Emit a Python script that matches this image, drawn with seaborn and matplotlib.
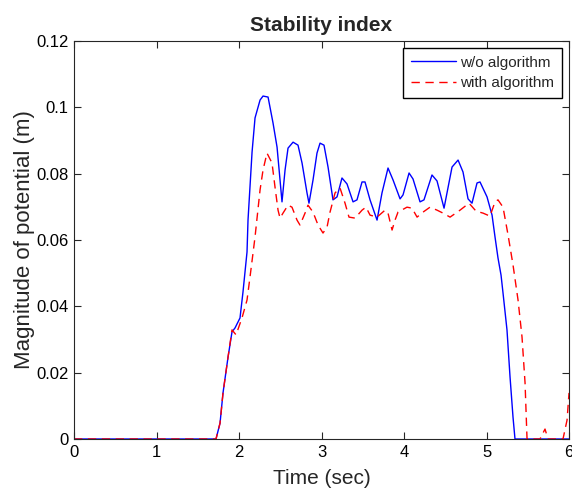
import seaborn as sns
import matplotlib.pyplot as plt
import pandas as pd

# data (time in sec, magnitude in m)
t_wo = [0.0, 1.721, 1.770, 1.806, 1.867, 1.915, 1.952, 2.012, 2.048, 2.097, 2.109, 2.158,
        2.194, 2.255, 2.291, 2.352, 2.412, 2.461, 2.497, 2.521, 2.558, 2.594, 2.655, 2.715,
        2.764, 2.824, 2.848, 2.897, 2.945, 2.982, 3.030, 3.079, 3.139, 3.188, 3.248, 3.309,
        3.382, 3.430, 3.491, 3.527, 3.588, 3.673, 3.733, 3.806, 3.867, 3.952, 3.988, 4.061,
        4.109, 4.194, 4.242, 4.339, 4.400, 4.485, 4.582, 4.655, 4.715, 4.776, 4.824, 4.885,
        4.921, 5.006, 5.067, 5.103, 5.139, 5.176, 5.200, 5.248, 5.285, 5.321, 5.345, 6.0]
y_wo = [0.0, 0.0, 0.0048, 0.0139, 0.0247, 0.0323, 0.0335, 0.0365, 0.0443, 0.0564, 0.0660, 0.0865,
        0.0968, 0.1022, 0.1034, 0.1031, 0.0953, 0.0880, 0.0781, 0.0715, 0.0811, 0.0877, 0.0895, 0.0886,
        0.0832, 0.0742, 0.0711, 0.0781, 0.0862, 0.0892, 0.0886, 0.0820, 0.0721, 0.0730, 0.0787, 0.0769,
        0.0715, 0.0721, 0.0775, 0.0775, 0.0721, 0.0660, 0.0742, 0.0817, 0.0781, 0.0724, 0.0736, 0.0802,
        0.0784, 0.0715, 0.0721, 0.0796, 0.0778, 0.0696, 0.0820, 0.0841, 0.0805, 0.0724, 0.0711, 0.0772,
        0.0775, 0.0730, 0.0675, 0.0609, 0.0546, 0.0494, 0.0440, 0.0329, 0.0187, 0.0066, 0.0, 0.0]

t_with = [0.0, 1.721, 1.770, 1.806, 1.867, 1.915, 1.964, 2.036, 2.097, 2.133, 2.170, 2.194,
          2.255, 2.291, 2.339, 2.400, 2.436, 2.473, 2.497, 2.533, 2.594, 2.642, 2.703, 2.739,
          2.800, 2.836, 2.897, 2.958, 3.018, 3.067, 3.103, 3.164, 3.224, 3.285, 3.333, 3.406,
          3.491, 3.539, 3.588, 3.673, 3.770, 3.806, 3.855, 3.891, 3.927, 4.036, 4.097, 4.158,
          4.230, 4.315, 4.400, 4.473, 4.558, 4.679, 4.788, 4.873, 4.958, 5.042, 5.103, 5.139,
          5.200, 5.261, 5.321, 5.382, 5.430, 5.467, 5.491, 5.648, 5.709, 5.745, 5.927, 5.976, 6.0]
y_with = [0.0, 0.0, 0.0048, 0.0139, 0.0247, 0.0329, 0.0314, 0.0365, 0.0419, 0.0488, 0.0561, 0.0609,
          0.0751, 0.0811, 0.0862, 0.0832, 0.0760, 0.0690, 0.0666, 0.0681, 0.0705, 0.0699, 0.0660, 0.0645,
          0.0681, 0.0705, 0.0684, 0.0645, 0.0621, 0.0639, 0.0684, 0.0742, 0.0757, 0.0711, 0.0669, 0.0666,
          0.0690, 0.0699, 0.0675, 0.0669, 0.0690, 0.0681, 0.0630, 0.0660, 0.0684, 0.0699, 0.0696, 0.0669,
          0.0684, 0.0699, 0.0690, 0.0681, 0.0669, 0.0690, 0.0711, 0.0687, 0.0681, 0.0672, 0.0715, 0.0721,
          0.0699, 0.0615, 0.0525, 0.0419, 0.0308, 0.0169, 0.0, 0.0, 0.0030, 0.0, 0.0, 0.0057, 0.0139]

x_ticks = [0, 1, 2, 3, 4, 5, 6]
y_ticks = [0, 0.02, 0.04, 0.06, 0.08, 0.1, 0.12]
y_labels = ['0', '0.02', '0.04', '0.06', '0.08', '0.1', '0.12']

df_wo = pd.DataFrame({'t': t_wo, 'y': y_wo})
df_with = pd.DataFrame({'t': t_with, 'y': y_with})

sns.set_style('ticks')
plt.rcParams['font.family'] = ['Liberation Sans', 'DejaVu Sans']

fig = plt.figure(figsize=(5.72, 4.91), dpi=100)
ax = fig.add_axes([0.1294, 0.1059, 0.8654, 0.8106])

sns.lineplot(data=df_wo, x='t', y='y', ax=ax, color='#0000ff', linewidth=1.0,
             sort=False, label='w/o algorithm')
sns.lineplot(data=df_with, x='t', y='y', ax=ax, color='#ff0000', linewidth=1.0,
             linestyle=(0, (6, 4)), sort=False, label='with algorithm')

ax.set_xlim(0, 6)
ax.set_ylim(0, 0.12)
ax.set_xticks(x_ticks)
ax.set_xticklabels([str(v) for v in x_ticks])
ax.set_yticks(y_ticks)
ax.set_yticklabels(y_labels)
ax.tick_params(direction='in', length=5, width=0.8, labelsize=12, top=True, right=True,
               colors='#262626', labelcolor='black', pad=4)
for sp in ax.spines.values():
    sp.set_visible(True)
    sp.set_linewidth(0.8)
    sp.set_color('#262626')

ax.set_xlabel('Time (sec)', fontsize=15, labelpad=7)
ax.set_ylabel('Magnitude of potential (m)', fontsize=16, labelpad=1)
ax.set_title('Stability index', fontsize=15, fontweight='bold', pad=7)

leg = ax.legend(loc='upper right', fancybox=False, framealpha=1, edgecolor='black',
                fontsize=11, handlelength=2.95, handletextpad=0.3, borderpad=0.5,
                borderaxespad=0.45, labelspacing=0.45)
leg.get_frame().set_linewidth(1.0)

plt.savefig('out.png', dpi=100)
